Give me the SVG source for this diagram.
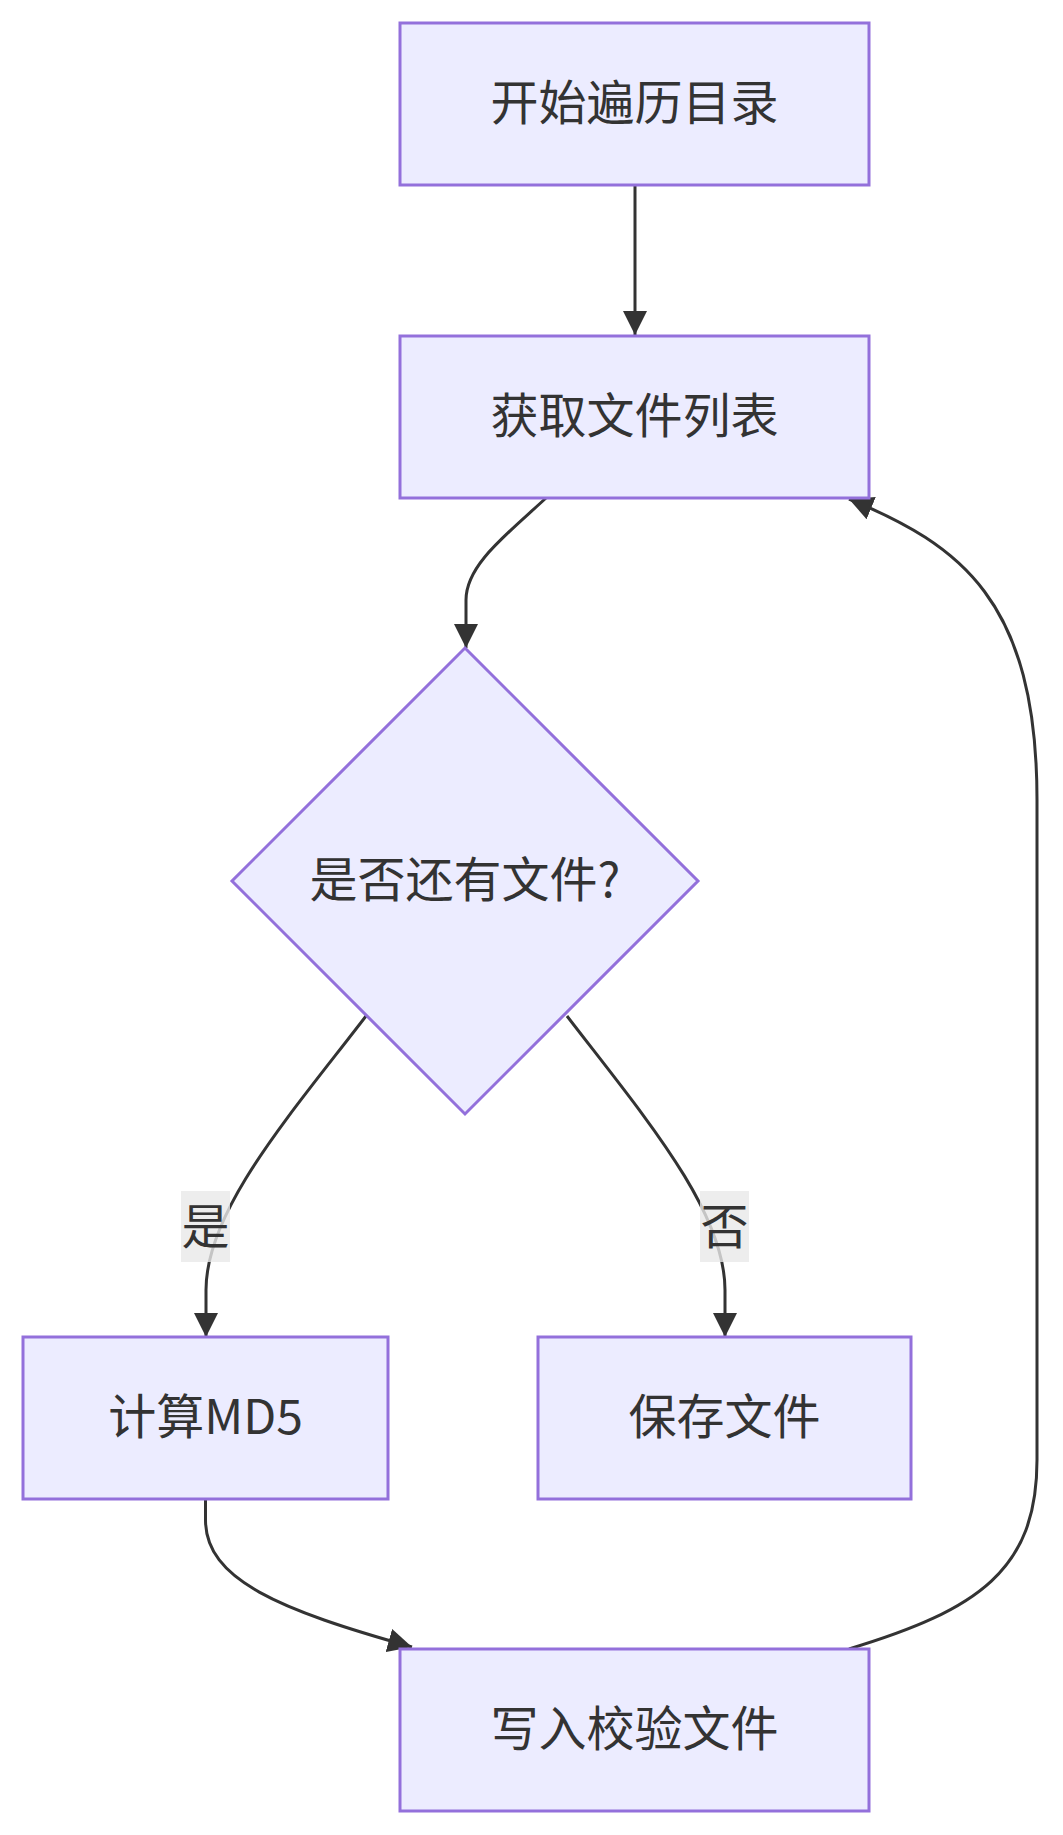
<svg xmlns="http://www.w3.org/2000/svg" width="1063" height="1835" viewBox="0 0 1063 1835">
<style>
.node rect, .node polygon { fill: #ECECFF; stroke: #9370DB; stroke-width: 3; }
.lbl { font-family: "Noto Sans CJK SC", "Noto Sans", sans-serif; font-size: 48px; fill: #333333; text-anchor: middle; dominant-baseline: central; }
.edge { fill: none; stroke: #333333; stroke-width: 3; }
.elbg { fill: #e8e8e8; fill-opacity: 0.8; }
</style>
<defs>
<marker id="arrow" viewBox="0 0 10 10" refX="10" refY="5" markerWidth="24" markerHeight="24" markerUnits="userSpaceOnUse" orient="auto">
<path d="M0,0 L10,5 L0,10 z" fill="#333333"/>
</marker>
</defs>
<rect width="1063" height="1835" fill="#ffffff"/>
<g id="edges">
<path class="edge" d="M635,185 L635,335" marker-end="url(#arrow)"/>
<path class="edge" d="M546,498 C506,535 466,565 466,600 L466,648" marker-end="url(#arrow)"/>
<path class="edge" d="M366,1016 C290,1115 206,1210 206,1290 L206,1337" marker-end="url(#arrow)"/>
<path class="edge" d="M567,1016 C643,1115 725,1210 725,1290 L725,1337" marker-end="url(#arrow)"/>
<path class="edge" d="M205.5,1499 L205.5,1520 C205.5,1580 280,1610 412,1647" marker-end="url(#arrow)"/>
<path class="edge" d="M849,1649 C978,1610 1037,1570 1037,1460 L1037,800 C1037,600 960,545 849,499" marker-end="url(#arrow)"/>
</g>
<g id="edge-label-yes">
<rect class="elbg" x="181" y="1191" width="49" height="71"/>
<text class="lbl" x="205.5" y="1223">是</text>
</g>
<g id="edge-label-no">
<rect class="elbg" x="700" y="1191" width="49" height="71"/>
<text class="lbl" x="724.5" y="1223">否</text>
</g>
<g id="node-start" class="node">
<rect x="400" y="23" width="469" height="162"/>
<text class="lbl" x="634.5" y="99">开始遍历目录</text>
</g>
<g id="node-list" class="node">
<rect x="400" y="336" width="469" height="162"/>
<text class="lbl" x="634.5" y="412">获取文件列表</text>
</g>
<g id="node-decision" class="node">
<polygon points="465,648 698,881 465,1114 232,881"/>
<text class="lbl" x="465" y="876">是否还有文件?</text>
</g>
<g id="node-md5" class="node">
<rect x="23" y="1337" width="365" height="162"/>
<text class="lbl" x="205.5" y="1413">计算MD5</text>
</g>
<g id="node-save" class="node">
<rect x="538" y="1337" width="373" height="162"/>
<text class="lbl" x="724.5" y="1413">保存文件</text>
</g>
<g id="node-write" class="node">
<rect x="400" y="1649" width="469" height="162"/>
<text class="lbl" x="634.5" y="1725">写入校验文件</text>
</g>
</svg>
